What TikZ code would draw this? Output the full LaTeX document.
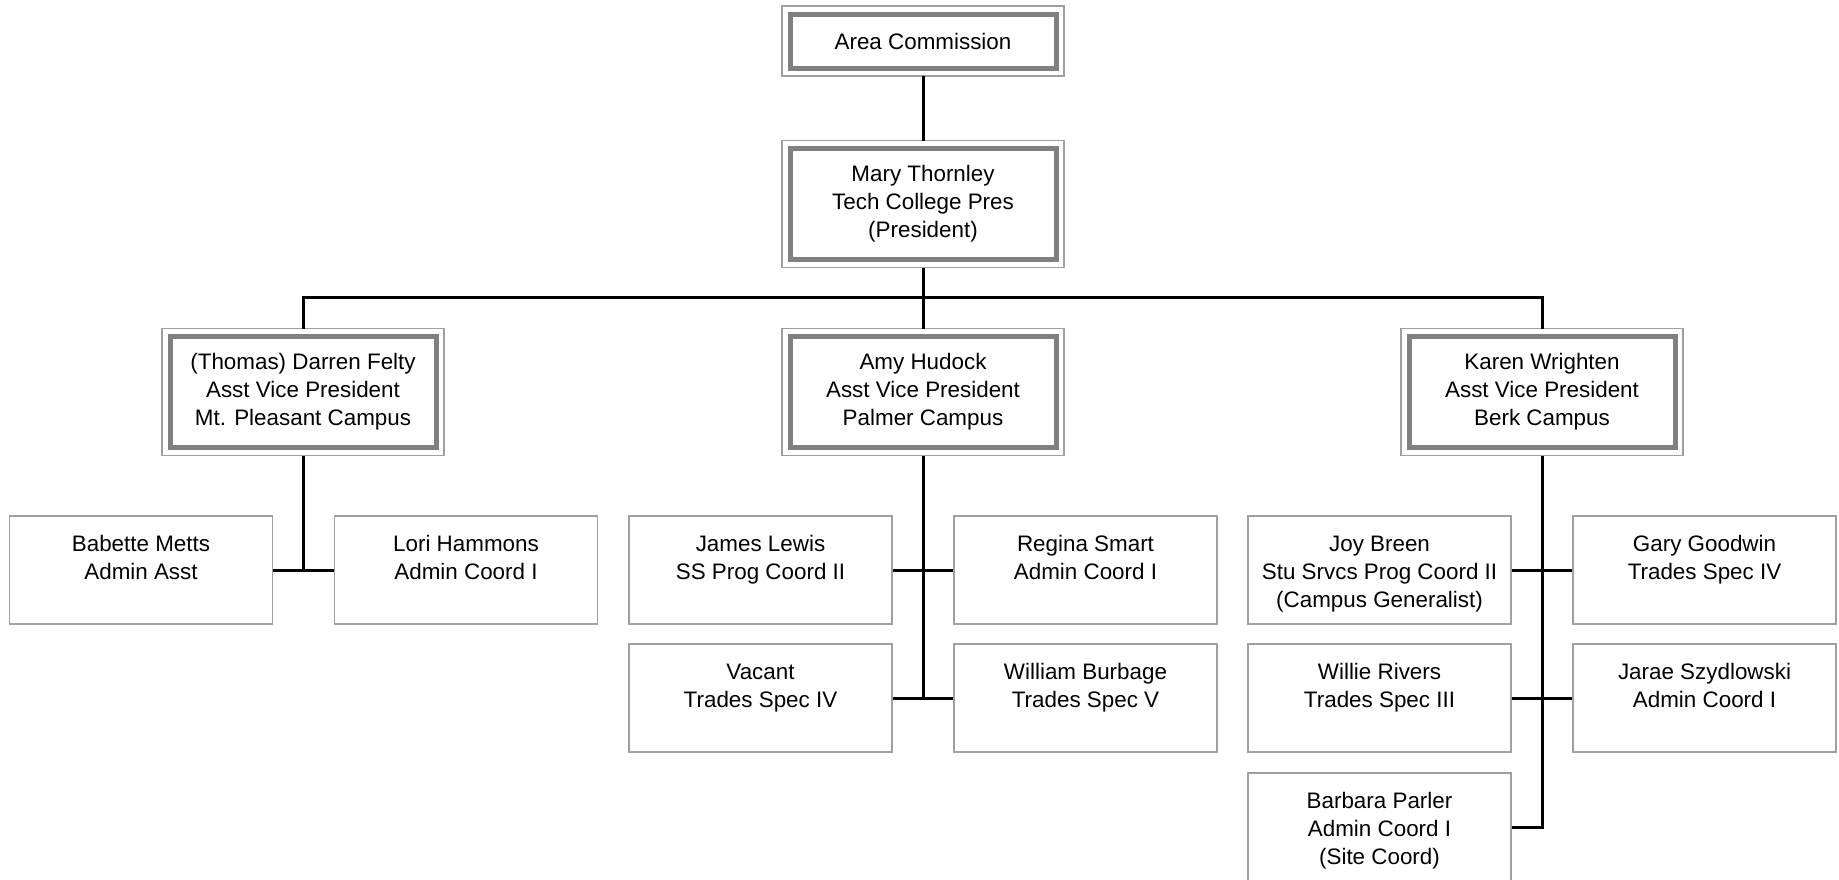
\documentclass[tikz,border=0pt]{standalone}
\usepackage{fontspec}
\setmainfont{Liberation Sans}
\usepackage{tikz}
\usetikzlibrary{positioning,calc}
\definecolor{bandgray}{HTML}{808080}
\definecolor{linegray}{HTML}{A0A0A0}
\newcommand{\lift}{\rule{0pt}{14.1pt}}

\begin{document}
\begin{tikzpicture}[x=0.5pt, y=-0.5pt,
  every node/.style={font=\fontsize{11.2}{14}\selectfont, align=center, inner sep=0pt},
  lead/.style={draw=bandgray, line width=2.5pt, fill=white, minimum width=133pt, minimum height=55.5pt, outer sep=4pt},
  staff/.style={draw=linegray, line width=0.75pt, fill=white, minimum width=131.5pt, minimum height=54pt},
  frame/.style={draw=linegray, line width=0.75pt},
  link/.style={draw=black, line width=1.5pt}]
\useasboundingbox (0,0) rectangle (1839,879);

\node[lead, minimum height=27pt] (comm) at (923,41) {Area Commission};
\node[lead] (pres) at (923,204) {Mary Thornley\\Tech College Pres\\(President)};
\node[lead] (felty) at (303,392) {(Thomas) Darren Felty\\Asst Vice President\\Mt. Pleasant Campus};
\node[lead] (hudock) at (923,392) {Amy Hudock\\Asst Vice President\\Palmer Campus};
\node[lead] (wright) at (1542,392) {Karen Wrighten\\Asst Vice President\\Berk Campus};
\foreach \n in {comm,pres,felty,hudock,wright}
  \draw[frame] (\n.north west) rectangle (\n.south east);

\node[staff] (metts) at (141,570) {\lift Babette Metts\\Admin Asst\\\strut};
\node[staff] (hammons) at (466,570) {\lift Lori Hammons\\Admin Coord I\\\strut};

\node[staff] (lewis) at (760.5,570) {\lift James Lewis\\SS Prog Coord II\\\strut};
\node[staff] (smart) at (1085.5,570) {\lift Regina Smart\\Admin Coord I\\\strut};
\node[staff] (vacant) at (760.5,698) {\lift Vacant\\Trades Spec IV\\\strut};
\node[staff] (burbage) at (1085.5,698) {\lift William Burbage\\Trades Spec V\\\strut};

\node[staff] (breen) at (1379.5,570) {\lift Joy Breen\\Stu Srvcs Prog Coord II\\(Campus Generalist)\strut};
\node[staff] (goodwin) at (1704.5,570) {\lift Gary Goodwin\\Trades Spec IV\\\strut};
\node[staff] (rivers) at (1379.5,698) {\lift Willie Rivers\\Trades Spec III\\\strut};
\node[staff] (szyd) at (1704.5,698) {\lift Jarae Szydlowski\\Admin Coord I\\\strut};
\node[staff] (parler) at (1379.5,827) {\lift Barbara Parler\\Admin Coord I\\(Site Coord)\strut};

\coordinate (bus) at (923,297);
\draw[link] (comm.south) -- (pres.north);
\draw[link] (pres.south) -- (hudock.north);
\draw[link] (felty.north) -- (felty.north |- bus) -- (wright.north |- bus) -- (wright.north);

\draw[link] (felty.south) -- (felty.south |- metts.east);
\draw[link] (metts.east) -- (hammons.west);

\draw[link] (hudock.south) -- (hudock.south |- vacant.east);
\draw[link] (lewis.east) -- (smart.west);
\draw[link] (vacant.east) -- (burbage.west);

\draw[link] (wright.south) -- (wright.south |- parler.east) -- (parler.east);
\draw[link] (breen.east) -- (goodwin.west);
\draw[link] (rivers.east) -- (szyd.west);
\end{tikzpicture}
\end{document}
